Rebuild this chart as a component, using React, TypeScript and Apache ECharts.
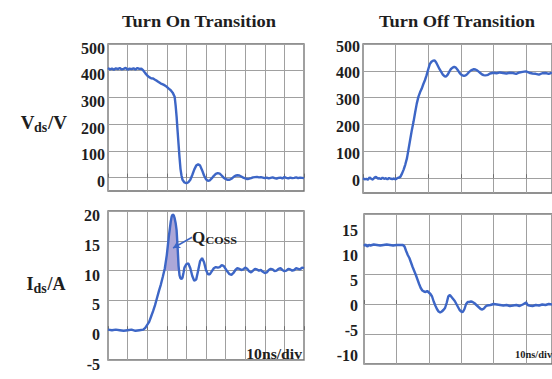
import React, { useEffect, useRef } from "react";
import * as echarts from "echarts";

// ---------- data (time in ns, 10 ns/div) ----------
const vdsTicks = [0, 100, 200, 300, 400, 500];
const idsOnTicks = [-5, 0, 5, 10, 15, 20];
const idsOffLabels = [-10, -5, 0, 5, 10, 15];
const onWindowNs = 100; // turn-on panels show 10 divisions
const offWindowNs = 58; // turn-off panels are cropped by the picture's right edge

// Turn-on Vds (ns, V)
const vdsTurnOn: [number, number][] = [
  [0, 410], [1, 405], [2, 408], [3, 404], [4, 409], [5, 406], [6, 410], [7, 405], [8, 407], [9, 411],
  [10, 404], [11, 408], [12, 406], [13, 409], [14, 405], [15, 410], [16, 407], [17, 408], [18, 401],
  [19, 391], [20, 382], [21, 376], [22, 372], [23, 371], [24, 366], [25, 362], [26, 357], [27, 352],
  [28, 349], [29, 345], [30, 340], [31, 333], [32, 327], [33, 318], [34, 303], [34.5, 270], [35, 228],
  [35.5, 175], [36, 125], [36.5, 75], [37, 32], [37.5, 8], [38, -8], [39, -18], [40, -21], [41, -17],
  [42, -8], [43, 10], [44, 30], [45, 45], [46, 50], [47, 45], [48, 28], [49, 8], [50, -6], [51, -12],
  [52, -10], [53, -2], [54, 7], [55, 14], [56, 17], [57, 15], [58, 8], [59, 0], [60, -5], [61, -8],
  [62, -8], [63, -4], [64, 2], [65, 7], [66, 9], [67, 8], [68, 4], [69, 0], [70, -3], [71, -5],
  [72, -4], [73, -2], [74, 1], [75, 2], [76, 3], [77, 1], [78, 2], [79, 0], [80, -2], [81, 0],
  [82, -3], [83, -1], [84, 1], [85, -2], [86, -4], [87, -1], [88, 0], [89, -3], [90, 2], [91, -1],
  [92, -3], [93, 0], [94, -2], [95, -1], [96, 1], [97, -2], [98, 0], [99, -1], [100, -2],
];

// Turn-off Vds (ns, V)
const vdsTurnOff: [number, number][] = [
  [0, 0], [0.5, -4], [1, -2], [1.5, -6], [2, 3], [2.5, -2], [3, -5], [3.5, 2], [4, 5], [4.5, -1],
  [5, 0], [5.5, -3], [6, 2], [6.5, -2], [7, 0], [7.5, -4], [8, 1], [8.5, -2], [9, -3], [9.5, -1],
  [10, -4], [10.5, 0], [11, 2], [11.5, 6], [12, 18], [12.5, 33], [13, 52], [13.5, 75], [14, 110],
  [14.5, 145], [15, 180], [15.5, 210], [16, 245], [16.5, 278], [17, 303], [17.5, 320], [18, 333],
  [18.5, 350], [19, 365], [19.5, 383], [20, 405], [20.5, 425], [21, 434], [21.5, 438], [22, 439],
  [22.5, 430], [23, 418], [23.5, 406], [24, 396], [24.5, 386], [25, 380], [25.5, 379], [26, 386],
  [26.5, 397], [27, 407], [27.5, 412], [28, 415], [28.5, 412], [29, 404], [29.5, 395], [30, 387],
  [30.5, 383], [31, 381], [31.5, 383], [32, 388], [32.5, 395], [33, 400], [33.5, 404], [34, 406],
  [34.5, 405], [35, 402], [35.5, 397], [36, 392], [36.5, 387], [37, 384], [37.5, 383], [38, 384],
  [38.5, 386], [39, 390], [40, 393], [41, 391], [42, 394], [43, 392], [44, 390], [45, 393], [46, 392],
  [47, 389], [48, 394], [49, 396], [50, 398], [51, 393], [52, 390], [53, 389], [54, 386], [55, 391],
  [56, 392], [57, 389], [58, 393],
];

// Turn-on Ids (ns, A)
const idsTurnOn: [number, number][] = [
  [0, 0.1], [2, 0], [4, 0.1], [6, 0], [8, -0.1], [10, 0], [12, 0.1], [14, -0.1], [16, 0], [18, 0.1],
  [19, 0.4], [20, 0.9], [21, 1.4], [22, 2.3], [23, 3.2], [24, 4.2], [25, 5.4], [26, 6.6], [27, 7.7],
  [28, 9.0], [29, 10.4], [30, 12.6], [31, 15.6], [32, 18.2], [32.5, 19.1], [33, 19.4], [33.5, 19.3],
  [34, 18.8], [34.5, 18.0], [35, 16.8], [35.5, 14.0], [36, 10.8], [36.5, 9.2], [37, 8.7], [37.5, 8.6],
  [38, 8.8], [38.5, 9.6], [39, 10.5], [40, 11.1], [41, 11.2], [42, 10.4], [43, 9.1], [44, 8.3],
  [45, 8.5], [46, 10.0], [47, 11.6], [48, 12.1], [49, 11.4], [50, 10.1], [51, 9.4], [52, 9.4],
  [53, 9.9], [54, 10.4], [55, 10.6], [56, 10.5], [57, 10.6], [58, 10.9], [59, 10.8], [60, 10.3],
  [61, 9.8], [62, 9.4], [63, 9.3], [64, 9.6], [65, 10.1], [66, 10.4], [67, 10.3], [68, 10.1],
  [69, 10.2], [70, 10.5], [71, 10.3], [72, 9.9], [73, 9.7], [74, 10.0], [75, 10.3], [76, 10.2],
  [77, 10.0], [78, 10.1], [79, 9.8], [80, 9.6], [81, 9.7], [82, 10.1], [83, 10.3], [84, 10.2],
  [85, 9.9], [86, 10.0], [87, 10.3], [88, 10.4], [89, 10.1], [90, 9.9], [91, 10.0], [92, 10.3],
  [93, 10.2], [94, 10.0], [95, 10.1], [96, 10.4], [97, 10.3], [98, 10.2], [99, 10.5], [100, 10.4],
];

// Turn-off Ids (ns, A)
const idsTurnOff: [number, number][] = [
  [0, 11.6], [0.5, 11.9], [1, 11.5], [1.5, 11.8], [2, 11.7], [3, 11.9], [4, 11.8], [5, 11.7],
  [6, 11.8], [7, 11.9], [8, 11.8], [9, 11.7], [10, 11.8], [11, 11.8], [12, 11.8], [12.5, 11.5],
  [13, 10.6], [13.5, 9.8], [14, 9.2], [14.5, 8.3], [15, 7.4], [15.5, 6.6], [16, 5.8], [16.5, 4.9],
  [17, 4.0], [17.5, 3.2], [18, 2.7], [18.5, 2.5], [19, 2.4], [19.5, 2.6], [20, 2.3], [20.5, 2.0],
  [21, 1.5], [21.5, 0.5], [22, -0.3], [22.5, -1.0], [23, -1.5], [23.5, -1.7], [24, -1.5], [24.5, -1.2],
  [25, -0.8], [25.5, 0.2], [26, 1.5], [26.5, 1.8], [27, 1.4], [27.5, 1.0], [28, 0.6], [28.5, 0.0],
  [29, -0.6], [29.5, -1.2], [30, -1.5], [30.5, -1.6], [31, -1.0], [31.5, 0.0], [32, 0.4], [32.5, 0.4],
  [33, 0.5], [33.5, 0.4], [34, 0.2], [34.5, -0.1], [35, -0.4], [35.5, -0.7], [36, -1.0], [36.5, -1.1],
  [37, -0.9], [37.5, -0.5], [38, -0.3], [39, -0.2], [40, 0.0], [41, -0.1], [42, -0.2], [43, -0.3],
  [44, -0.2], [45, -0.4], [46, -0.3], [47, -0.2], [48, -0.4], [49, -0.1], [50, 0.3], [50.5, -0.2],
  [51, -0.3], [52, -0.4], [53, -0.2], [54, -0.3], [55, -0.1], [56, -0.2], [57, 0.0], [58, -0.1],
];

// Qoss shaded region: Ids above the 10 A level, between these times
const qossLevel = 10;
const qossRange = [28, 36.5];
const qossArrow: [number, number][] = [[33.2, 13.8], [42.9, 15.6]];

// ---------- styles ----------
const SERIF = '"Liberation Serif", "Times New Roman", serif';
const BLUE = "#3d66c6";
const GRID_LINE = "#a0a0a0";
const BORDER = "#6e6e6e";
const TEXT = "#1e1e1e";

function App() {
  const ref = useRef<HTMLDivElement>(null);

  useEffect(() => {
    if (!ref.current) return;
    const chart = echarts.init(ref.current, undefined, { renderer: "svg" });

    // polygon of the Qoss area: curve above the level, closed along the level
    const qossCurve = idsTurnOn
      .filter(([t]) => t >= qossRange[0] && t <= qossRange[1])
      .map(([t, v]) => [t, Math.max(v, qossLevel)]);
    const qossPolygon = [
      [qossCurve[0][0], qossLevel],
      ...qossCurve,
      [qossCurve[qossCurve.length - 1][0], qossLevel],
    ];

    const grids = [
      { left: 108, top: 44, width: 196, height: 147 },
      { left: 363, top: 44, right: -3, height: 149 },
      { left: 108, top: 211, width: 196, height: 149 },
      { left: 364, top: 214, right: -3, height: 150 },
    ].map((g) => ({
      ...g,
      show: true,
      borderColor: BORDER,
      borderWidth: 1.3,
      backgroundColor: "#ffffff",
      containLabel: false,
    }));

    const xAxes = grids.map((_, i) => ({
      type: "value",
      gridIndex: i,
      min: 0,
      max: i % 2 === 0 ? onWindowNs : offWindowNs,
      interval: 10,
      axisLine: { show: false },
      axisLabel: { show: false },
      axisTick: { show: true, inside: true, length: 4, lineStyle: { color: BORDER } },
      splitLine: { show: true, lineStyle: { color: GRID_LINE, width: 1 } },
    }));

    // labels sit a few pixels below their grid lines in the reference
    const labelStyle = (drop: number, margin: number) => ({
      color: TEXT,
      fontFamily: SERIF,
      fontWeight: "bold",
      fontSize: 16,
      margin,
      verticalAlign: "top",
      lineHeight: drop * 2,
    });

    const yAxes = [
      {
        type: "value",
        gridIndex: 0,
        min: -50,
        max: 500,
        axisLine: { show: false },
        axisTick: { show: false, customValues: vdsTicks },
        axisLabel: { ...labelStyle(4, 3), customValues: vdsTicks },
        splitLine: { show: true, lineStyle: { color: GRID_LINE, width: 1 } },
      },
      {
        type: "value",
        gridIndex: 1,
        min: -55,
        max: 500,
        axisLine: { show: false },
        axisTick: { show: false, customValues: vdsTicks },
        axisLabel: { ...labelStyle(2, 3), customValues: vdsTicks },
        splitLine: { show: true, lineStyle: { color: GRID_LINE, width: 1 } },
      },
      {
        type: "value",
        gridIndex: 2,
        min: -5,
        max: 20,
        interval: 5,
        axisLine: { show: false },
        axisTick: { show: false },
        axisLabel: { ...labelStyle(4.5, 8), customValues: idsOnTicks },
        splitLine: { show: true, lineStyle: { color: GRID_LINE, width: 1 } },
      },
      {
        type: "value",
        gridIndex: 3,
        min: -12,
        max: 18,
        interval: 6,
        axisLine: { show: false },
        axisTick: { show: false },
        axisLabel: { ...labelStyle(1.5, 6), customValues: idsOffLabels },
        splitLine: { show: true, lineStyle: { color: GRID_LINE, width: 1 } },
      },
    ];

    const curve = (data: [number, number][], i: number, extra: any = {}) => ({
      type: "line",
      xAxisIndex: i,
      yAxisIndex: i,
      data,
      showSymbol: false,
      symbol: "none",
      silent: true,
      clip: true,
      lineStyle: { color: BLUE, width: 2.4 },
      z: 3,
      ...extra,
    });

    const option = {
      animation: false,
      backgroundColor: "#ffffff",
      grid: grids,
      xAxis: xAxes,
      yAxis: yAxes,
      series: [
        curve(vdsTurnOn, 0),
        curve(vdsTurnOff, 1),
        {
          type: "custom",
          xAxisIndex: 2,
          yAxisIndex: 2,
          silent: true,
          z: 2,
          data: [qossPolygon[0]],
          renderItem: (_params: any, api: any) => ({
            type: "polygon",
            shape: { points: qossPolygon.map((p) => api.coord(p)) },
            style: { fill: "#aca7d8", stroke: "none" },
          }),
        },
        curve(idsTurnOn, 2, {
          markLine: {
            silent: true,
            symbol: ["arrow", "none"],
            symbolSize: [6, 7],
            label: { show: false },
            lineStyle: { color: BLUE, width: 1.6, type: "solid" },
            data: [[{ coord: qossArrow[0] }, { coord: qossArrow[1] }]],
          },
        }),
        curve(idsTurnOff, 3),
      ],
      graphic: [
        {
          type: "text",
          x: 199,
          y: 22,
          scaleX: 1.15,
          style: {
            text: "Turn On Transition",
            fontFamily: SERIF,
            fontWeight: "bold",
            fontSize: 16,
            fill: TEXT,
            align: "center",
            verticalAlign: "middle",
          },
        },
        {
          type: "text",
          x: 457,
          y: 22,
          scaleX: 1.15,
          style: {
            text: "Turn Off Transition",
            fontFamily: SERIF,
            fontWeight: "bold",
            fontSize: 16,
            fill: TEXT,
            align: "center",
            verticalAlign: "middle",
          },
        },
        // Vds/V axis name
        { type: "text", x: 20.7, y: 122, style: { text: "V", fontFamily: SERIF, fontWeight: "bold", fontSize: 19, fill: TEXT, align: "left", verticalAlign: "middle" } },
        { type: "text", x: 34, y: 127, style: { text: "ds", fontFamily: SERIF, fontWeight: "bold", fontSize: 14, fill: TEXT, align: "left", verticalAlign: "middle" } },
        { type: "text", x: 48, y: 122, style: { text: "/V", fontFamily: SERIF, fontWeight: "bold", fontSize: 19, fill: TEXT, align: "left", verticalAlign: "middle" } },
        // Ids/A axis name
        { type: "text", x: 26.5, y: 284, style: { text: "I", fontFamily: SERIF, fontWeight: "bold", fontSize: 18, fill: TEXT, align: "left", verticalAlign: "middle" } },
        { type: "text", x: 33.5, y: 288.5, style: { text: "ds", fontFamily: SERIF, fontWeight: "bold", fontSize: 14, fill: TEXT, align: "left", verticalAlign: "middle" } },
        { type: "text", x: 47.5, y: 284, style: { text: "/A", fontFamily: SERIF, fontWeight: "bold", fontSize: 18, fill: TEXT, align: "left", verticalAlign: "middle" } },
        // Qoss label
        { type: "text", x: 192, y: 237, z: 10, style: { text: "Q", fontFamily: SERIF, fontWeight: "bold", fontSize: 17, fill: TEXT, align: "left", verticalAlign: "middle" } },
        { type: "text", x: 205.5, y: 240.5, z: 10, scaleX: 1.1, style: { text: "COSS", fontFamily: SERIF, fontWeight: "bold", fontSize: 11, fill: TEXT, align: "left", verticalAlign: "middle" } },
        // time scale notes
        { type: "text", x: 302, y: 354.5, z: 10, scaleX: 1.12, style: { text: "10ns/div", fontFamily: SERIF, fontWeight: "bold", fontSize: 14, fill: TEXT, align: "right", verticalAlign: "middle" } },
        { type: "text", x: 515, y: 354.5, z: 10, scaleX: 1.1, style: { text: "10ns/div", fontFamily: SERIF, fontWeight: "bold", fontSize: 9.5, fill: TEXT, align: "left", verticalAlign: "middle" } },
      ],
    };

    chart.setOption(option as any);
    return () => chart.dispose();
  }, []);

  return (
    <div
      ref={ref}
      style={{ position: "fixed", left: 0, top: 0, width: 552, height: 379, background: "#fff" }}
    />
  );
}

export default App;
